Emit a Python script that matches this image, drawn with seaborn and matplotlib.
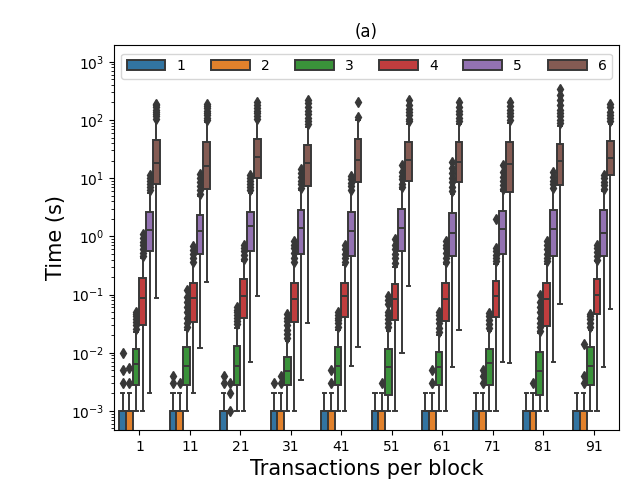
import matplotlib
matplotlib.use("Agg")
import matplotlib.pyplot as plt
import seaborn as sns
import pandas as pd

# x categories and hue levels
tx_per_block = ["1", "11", "21", "31", "41", "51", "61", "71", "81", "91"]
levels = ["1", "2", "3", "4", "5", "6"]

# box summaries (seconds), one value per x category:
# lower whisker, q1, median, q3, upper whisker, outliers
lo_1 = [0] * 10
q1_1 = [0] * 10
med_1 = [0.001] * 10
q3_1 = [0.001] * 10
hi_1 = [0.002] * 10
fl_1 = [[0.003, 0.005, 0.01], [0.003, 0.004], [0.003, 0.004], [0.003], [], [], [], [], [], []]

lo_2 = [0] * 10
q1_2 = [0] * 10
med_2 = [0.001, 0.001, 0, 0.001, 0.001, 0.001, 0.001, 0.001, 0.001, 0.001]
q3_2 = [0.001, 0.001, 0, 0.001, 0.001, 0.001, 0.001, 0.001, 0.001, 0.001]
hi_2 = [0.002, 0.002, 0, 0.002, 0.002, 0.002, 0.002, 0.002, 0.002, 0.002]
fl_2 = [[0.003, 0.0055], [0.003], [0.001, 0.002, 0.003], [0.003, 0.004], [0.003, 0.005],
        [0.003], [0.003, 0.005], [0.003, 0.004, 0.005], [0.003], [0.003, 0.004, 0.014]]

lo_3 = [0.001] * 10
q1_3 = [0.0028, 0.0028, 0.0028, 0.0028, 0.0028, 0.0019, 0.0028, 0.0028, 0.0019, 0.0028]
med_3 = [0.0064, 0.0058, 0.0058, 0.0049, 0.0058, 0.0056, 0.0056, 0.0066, 0.0049, 0.0058]
q3_3 = [0.0116, 0.0123, 0.0132, 0.0086, 0.0123, 0.0116, 0.0104, 0.0118, 0.0104, 0.0123]
hi_3 = [0.023, 0.025, 0.027, 0.016, 0.025, 0.024, 0.020, 0.024, 0.022, 0.025]
fl_3 = [[0.026, 0.03, 0.034, 0.038, 0.042, 0.046, 0.05],
        [0.028, 0.033, 0.04, 0.05, 0.06, 0.075, 0.09, 0.12],
        [0.031, 0.035, 0.04, 0.045, 0.05, 0.055, 0.06],
        [0.018, 0.021, 0.025, 0.03, 0.035, 0.04, 0.047],
        [0.028, 0.032, 0.036, 0.04, 0.045, 0.05],
        [0.028, 0.032, 0.038, 0.045, 0.05, 0.07, 0.08, 0.094],
        [0.023, 0.027, 0.032, 0.038, 0.044, 0.05],
        [0.027, 0.031, 0.036, 0.042, 0.049],
        [0.024, 0.028, 0.033, 0.04, 0.05, 0.06, 0.075, 0.1],
        [0.028, 0.033, 0.038, 0.043, 0.047]]

lo_4 = [0.001, 0.002, 0.001, 0.001, 0.001, 0.001, 0.001, 0.001, 0.001, 0.001]
q1_4 = [0.0298, 0.034, 0.040, 0.034, 0.041, 0.0366, 0.035, 0.041, 0.029, 0.046]
med_4 = [0.088, 0.086, 0.094, 0.083, 0.094, 0.083, 0.083, 0.094, 0.083, 0.10]
q3_4 = [0.194, 0.159, 0.182, 0.159, 0.159, 0.149, 0.159, 0.17, 0.159, 0.182]
hi_4 = [0.42, 0.33, 0.38, 0.33, 0.32, 0.30, 0.33, 0.34, 0.34, 0.37]
fl_4 = [[0.46, 0.52, 0.6, 0.7, 0.8, 0.95, 1.1],
        [0.36, 0.42, 0.5, 0.58, 0.67],
        [0.41, 0.47, 0.55, 0.63, 0.72],
        [0.36, 0.43, 0.52, 0.62, 0.72, 0.82],
        [0.36, 0.42, 0.5, 0.6, 0.72],
        [0.35, 0.42, 0.5, 0.6, 0.72, 0.9],
        [0.36, 0.43, 0.52, 0.62, 0.72, 0.82],
        [0.37, 0.42, 0.48, 0.55, 0.63, 2.0],
        [0.37, 0.43, 0.5, 0.6, 0.7, 0.82],
        [0.4, 0.46, 0.53, 0.62, 0.72]]

lo_5 = [0.002, 0.012, 0.0068, 0.0034, 0.0058, 0.0099, 0.0057, 0.0068, 0.0068, 0.0057]
q1_5 = [0.57, 0.49, 0.57, 0.49, 0.455, 0.555, 0.455, 0.49, 0.46, 0.46]
med_5 = [1.30, 1.25, 1.48, 1.39, 1.22, 1.39, 1.14, 1.35, 1.35, 1.14]
q3_5 = [2.67, 2.35, 2.67, 2.86, 2.67, 2.98, 2.5, 2.75, 2.86, 2.8]
hi_5 = [5.6, 5.0, 5.6, 6.2, 5.8, 6.4, 5.4, 6.0, 6.2, 6.1]
fl_5 = [[6.2, 7, 8, 9, 10, 11.4],
        [5.4, 6.2, 7.2, 8.5, 10, 12],
        [6.2, 7, 8, 9, 10, 11.4],
        [6.8, 7.8, 9, 10.5, 12.5, 14.6],
        [6.3, 7.2, 8.3, 9.5, 11],
        [7, 8, 9.5, 11, 13, 16.6],
        [6, 7, 8.5, 10, 12.5, 15, 19],
        [6.5, 7.5, 8.8, 10.5, 13, 16.6],
        [6.8, 7.8, 9, 10.5, 12.8],
        [6.6, 7.5, 8.5, 10, 11.4]]

lo_6 = [0.087, 0.166, 0.094, 0.033, 0.0123, 0.14, 0.025, 0.0066, 0.068, 0.056]
q1_6 = [8.1, 6.5, 9.9, 7.2, 8.7, 9.0, 8.7, 5.7, 7.7, 11.4]
med_6 = [18.4, 16.2, 22.7, 17.9, 20.9, 20.9, 19.1, 17.2, 19.7, 22.4]
q3_6 = [45, 42, 46.8, 36.9, 46.8, 42, 42, 42, 39.4, 43]
hi_6 = [95, 92, 97, 75, 100, 85, 85, 90, 80, 85]
fl_6 = [[105, 115, 125, 135, 150, 165, 180, 190],
        [100, 110, 120, 130, 145, 160, 175, 190],
        [106, 118, 130, 145, 160, 180, 200],
        [85, 95, 110, 125, 145, 170, 195, 220],
        [112, 204],
        [95, 105, 120, 135, 155, 180, 217],
        [95, 110, 125, 145, 170, 204],
        [100, 115, 130, 150, 175, 204],
        [90, 100, 115, 130, 150, 180, 220, 270, 343],
        [95, 108, 122, 140, 165, 190]]

summaries = {
    "1": (lo_1, q1_1, med_1, q3_1, hi_1, fl_1),
    "2": (lo_2, q1_2, med_2, q3_2, hi_2, fl_2),
    "3": (lo_3, q1_3, med_3, q3_3, hi_3, fl_3),
    "4": (lo_4, q1_4, med_4, q3_4, hi_4, fl_4),
    "5": (lo_5, q1_5, med_5, q3_5, hi_5, fl_5),
    "6": (lo_6, q1_6, med_6, q3_6, hi_6, fl_6),
}

# turn each summary into a sample whose quartiles match it
rows = []
for lev, (lo, q1, med, q3, hi, fl) in summaries.items():
    for i, tx in enumerate(tx_per_block):
        vals = [lo[i]] + [q1[i]] * 15 + [med[i]] * 15 + [q3[i]] * 15 + [hi[i]] + fl[i]
        for v in vals:
            rows.append({"tx": tx, "level": lev, "time": v})
df = pd.DataFrame(rows)

line_col = "#383838"

fig = plt.figure(figsize=(6.38, 4.94), dpi=100)
ax = fig.add_axes([0.179, 0.1296, 0.791, 0.7794])

sns.boxplot(data=df, x="tx", y="time", hue="level", order=tx_per_block, hue_order=levels,
            palette="tab10", linewidth=1.4, linecolor=line_col, fliersize=5.5,
            flierprops={"marker": "d", "markerfacecolor": line_col,
                        "markeredgecolor": line_col},
            ax=ax)
ax.set_yscale("log")
ax.set_ylim(4.7e-4, 1.95e3)

ax.set_title("(a)", fontsize=12)
ax.set_xlabel("Transactions per block", fontsize=15)
ax.set_ylabel("Time (s)", fontsize=15)
ax.tick_params(labelsize=10)

ax.legend(loc="upper left", bbox_to_anchor=(0.008, 0, 0.984, 0.985), mode="expand",
          ncol=6, fontsize=10, handlelength=2.8, borderaxespad=0.2)

fig.savefig("out.png", dpi=100)
